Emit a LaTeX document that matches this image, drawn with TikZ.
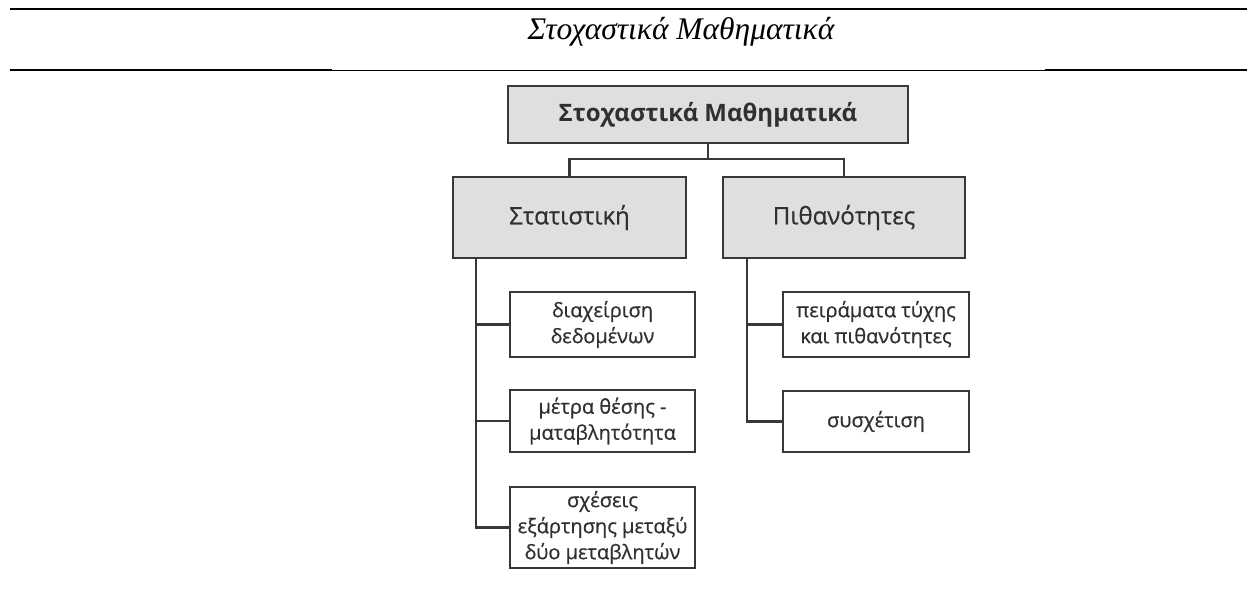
\documentclass[tikz,border=0pt]{standalone}
\usepackage{fontspec}
\setmainfont{Open Sans}
\newfontfamily\diagfont{Open Sans}[FakeBold=0.6]
\newfontfamily\headfont{Liberation Serif}
\usepackage{tikz}
\usetikzlibrary{positioning,calc}

\definecolor{boxgray}{HTML}{DFDFDF}
\definecolor{linegray}{HTML}{383838}
\definecolor{textgray}{HTML}{303030}

\begin{document}
\begin{tikzpicture}[x=1pt, y=-1pt,
  mainbox/.style={draw=linegray, line width=2.8pt, fill=boxgray, inner sep=0pt,
    text=textgray, align=center},
  leafbox/.style={draw=linegray, line width=2.8pt, fill=white, inner sep=0pt,
    text=textgray, align=center, minimum width=185pt,
    font=\diagfont\fontsize{20}{26}\selectfont},
  link/.style={draw=linegray, line width=2.4pt}]

\useasboundingbox (0,0) rectangle (1247,614);

% Page header rules and title
\draw[line width=2.2pt] (10,9) -- (1247,9);
\draw[line width=2.2pt] (10,70) -- (332,70);
\draw[line width=0.8pt] (332,70) -- (1045,70);
\draw[line width=2.2pt] (1045,70) -- (1247,70);
\node[font=\headfont\itshape\fontsize{31.5}{36}\selectfont] (title) at (681,32) {Στοχαστικά Μαθηματικά};

% Top level
\node[mainbox, minimum width=400pt, minimum height=57pt,
  font=\bfseries\fontsize{24}{28}\selectfont] (stoch) at (708,114.5) {Στοχαστικά Μαθηματικά};

% Second level
\node[mainbox, minimum width=233pt, minimum height=81pt,
  font=\diagfont\fontsize{24}{28}\selectfont] (stat) at (569.5,217.5) {Στατιστική};
\node[mainbox, minimum width=242pt, minimum height=81pt,
  font=\diagfont\fontsize{24}{28}\selectfont] (prob) at (844,217.5) {Πιθανότητες};

% Statistics topics
\node[leafbox, minimum height=65pt] (data) at (602.5,324.5) {διαχείριση\\δεδομένων};
\node[leafbox, minimum height=62pt] (measures) at (602.5,421) {μέτρα θέσης -\\ματαβλητότητα};
\node[leafbox, minimum height=81pt] (relations) at (602.5,527.5) {σχέσεις\\εξάρτησης μεταξύ\\δύο μεταβλητών};

% Probability topics
\node[leafbox, minimum width=186pt, minimum height=65pt] (chance) at (876,324.5) {πειράματα τύχης\\και πιθανότητες};
\node[leafbox, minimum width=186pt, minimum height=61pt] (correl) at (876,421.5) {συσχέτιση};

% Connectors
\coordinate (fork) at (708,159);
\draw[link] (stoch.south) -- (fork);
\draw[link] (stat.north) |- (fork) -| (prob.north);

\coordinate (statspine) at (476,258);
\draw[link] (statspine) |- (relations.west);
\draw[link] (data.west) -- (data.west -| statspine);
\draw[link] (measures.west) -- (measures.west -| statspine);

\coordinate (probspine) at (747,258);
\draw[link] (probspine) |- (correl.west);
\draw[link] (chance.west) -- (chance.west -| probspine);

\end{tikzpicture}
\end{document}
